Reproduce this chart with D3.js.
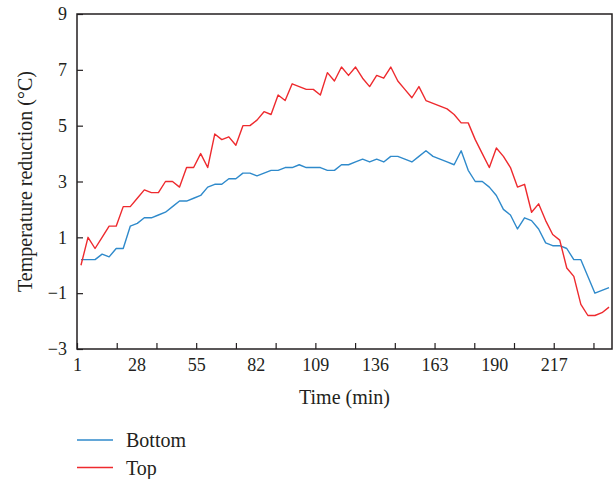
<!DOCTYPE html>
<html>
<head>
<meta charset="utf-8">
<script src="https://cdn.jsdelivr.net/npm/d3@7"></script>
<style>
  body { margin: 0; background: #fff; }
  svg text { font-family: "Liberation Serif", "DejaVu Serif", serif; fill: #231f20; }
</style>
</head>
<body>
<div id="chart"></div>
<script>
// readings taken every sample (76 samples)
const bottom = [0.2, 0.2, 0.2, 0.4, 0.3, 0.6, 0.6, 1.4, 1.5, 1.7, 1.7, 1.8, 1.9, 2.1, 2.3, 2.3, 2.4, 2.5, 2.8, 2.9,
                2.9, 3.1, 3.1, 3.3, 3.3, 3.2, 3.3, 3.4, 3.4, 3.5, 3.5, 3.6, 3.5, 3.5, 3.5, 3.4, 3.4, 3.6, 3.6, 3.7,
                3.8, 3.7, 3.8, 3.7, 3.9, 3.9, 3.8, 3.7, 3.9, 4.1, 3.9, 3.8, 3.7, 3.6, 4.1, 3.4, 3.0, 3.0, 2.8, 2.5,
                2.0, 1.8, 1.3, 1.7, 1.6, 1.3, 0.8, 0.7, 0.7, 0.6, 0.2, 0.2, -0.4, -1.0, -0.9, -0.8];
const top_ = [0.0, 1.0, 0.6, 1.0, 1.4, 1.4, 2.1, 2.1, 2.4, 2.7, 2.6, 2.6, 3.0, 3.0, 2.8, 3.5, 3.5, 4.0, 3.5, 4.7,
              4.5, 4.6, 4.3, 5.0, 5.0, 5.2, 5.5, 5.4, 6.1, 5.9, 6.5, 6.4, 6.3, 6.3, 6.1, 6.9, 6.6, 7.1, 6.8, 7.1,
              6.7, 6.4, 6.8, 6.7, 7.1, 6.6, 6.3, 6.0, 6.4, 5.9, 5.8, 5.7, 5.6, 5.4, 5.1, 5.1, 4.5, 4.0, 3.5, 4.2,
              3.9, 3.5, 2.8, 2.9, 1.9, 2.2, 1.6, 1.1, 0.9, -0.1, -0.4, -1.4, -1.8, -1.8, -1.7, -1.5];
const xTickLabels = [1, 28, 55, 82, 109, 136, 163, 190, 217];
const xTickMarks = [1, 19, 37, 55, 73, 91, 109, 127, 145, 163, 181, 199, 217, 235];
const yTickLabels = [-3, -1, 1, 3, 5, 7, 9];
const seriesNames = ['Bottom', 'Top'];
const colors = ['#2f8acb', '#ee2a2e'];

const firstMin = 2.8, stepMin = 3.19;
const minutes = bottom.map((d, i) => firstMin + i * stepMin);

const outerWidth = 616, outerHeight = 479;
const margin = { top: 14, right: 4, bottom: 130, left: 77 };
const width = outerWidth - margin.left - margin.right;
const height = 349 - margin.top;

const svg = d3.select('#chart').append('svg')
    .attr('width', outerWidth)
    .attr('height', outerHeight);

const g = svg.append('g')
    .attr('transform', `translate(${margin.left}, ${margin.top})`);

const x = d3.scaleLinear().domain([1, 243.4]).range([0, width]);
const y = d3.scaleLinear().domain([-3, 9]).range([height, 0]);

const fmt = d => d < 0 ? '\u2212' + Math.abs(d) : String(d);

// tick marks point inward
g.append('g')
    .attr('transform', `translate(0, ${height})`)
    .call(d3.axisTop(x).tickValues(xTickMarks).tickSize(6).tickFormat(''))
    .call(a => a.select('.domain').remove())
    .selectAll('line').attr('stroke', '#231f20').attr('stroke-width', 1.2);

g.append('g')
    .attr('transform', `translate(0, ${height})`)
    .call(d3.axisBottom(x).tickValues(xTickLabels).tickSize(0).tickPadding(9).tickFormat(fmt))
    .call(a => a.select('.domain').remove())
    .selectAll('text').style('font-size', '18px');

g.append('g')
    .call(d3.axisRight(y).tickValues(yTickLabels).tickSize(6).tickFormat(''))
    .call(a => a.select('.domain').remove())
    .selectAll('line').attr('stroke', '#231f20').attr('stroke-width', 1.2);

g.append('g')
    .call(d3.axisLeft(y).tickValues(yTickLabels).tickSize(0).tickPadding(10).tickFormat(fmt))
    .call(a => a.select('.domain').remove())
    .selectAll('text').style('font-size', '18px');

const line = d3.line()
    .x((d, i) => x(minutes[i]))
    .y(d => y(d));

[bottom, top_].forEach((s, k) => {
    g.append('path')
        .datum(s)
        .attr('fill', 'none')
        .attr('stroke', colors[k])
        .attr('stroke-width', 1.4)
        .attr('stroke-linejoin', 'round')
        .attr('d', line);
});

// frame
g.append('rect')
    .attr('width', width)
    .attr('height', height)
    .attr('fill', 'none')
    .attr('stroke', '#231f20')
    .attr('stroke-width', 1.5);

// titles
g.append('text')
    .attr('x', width / 2)
    .attr('y', height + 55)
    .attr('text-anchor', 'middle')
    .style('font-size', '20px')
    .text('Time (min)');

svg.append('text')
    .attr('transform', `translate(32, ${margin.top + height / 2}) rotate(-90)`)
    .attr('text-anchor', 'middle')
    .style('font-size', '20px')
    .text('Temperature reduction (\u00B0C)');

// legend
const legend = svg.append('g').attr('transform', 'translate(77, 440)');
seriesNames.forEach((name, k) => {
    const row = legend.append('g').attr('transform', `translate(0, ${k * 27.5})`);
    row.append('line')
        .attr('x1', 0).attr('x2', 36)
        .attr('stroke', colors[k])
        .attr('stroke-width', 1.4);
    row.append('text')
        .attr('x', 49)
        .attr('dy', '0.35em')
        .style('font-size', '20px')
        .text(name);
});
</script>
</body>
</html>
